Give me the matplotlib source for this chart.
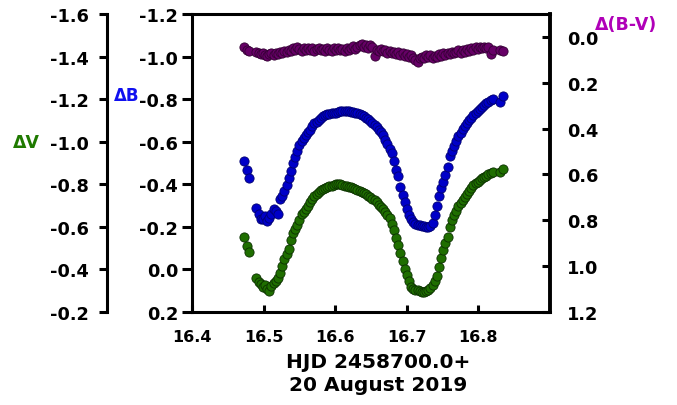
import matplotlib
matplotlib.use("Agg")
import matplotlib.pyplot as plt

plt.rcParams['font.family'] = ['DejaVu Sans']
plt.rcParams['font.weight'] = 'bold'

# HJD - 2458700.0 (shared by all three series)
hjd = [16.4730, 16.4775, 16.4795,
       16.490, 16.493, 16.496, 16.499, 16.502, 16.505, 16.508, 16.511, 16.514, 16.517,
       16.520, 16.523, 16.526, 16.529, 16.532, 16.535, 16.538, 16.541, 16.544, 16.547,
       16.550, 16.553, 16.556, 16.559, 16.562, 16.565, 16.568, 16.571, 16.574, 16.577,
       16.580, 16.583, 16.586, 16.589, 16.592, 16.595, 16.598, 16.601, 16.604, 16.607,
       16.610, 16.613, 16.616, 16.619, 16.622, 16.625, 16.628, 16.631, 16.634, 16.637,
       16.640, 16.643, 16.646, 16.649, 16.652, 16.655, 16.658, 16.661, 16.664, 16.667,
       16.670, 16.673, 16.676, 16.679, 16.682, 16.685, 16.688, 16.691, 16.694, 16.697,
       16.700, 16.703, 16.706, 16.709, 16.712, 16.715, 16.718, 16.721, 16.724, 16.727,
       16.730, 16.733, 16.736, 16.739, 16.742, 16.745, 16.748, 16.751, 16.754, 16.757,
       16.760, 16.763, 16.766, 16.769, 16.772, 16.775, 16.778, 16.781, 16.784, 16.787,
       16.790, 16.793, 16.796, 16.799, 16.802, 16.805, 16.808, 16.811, 16.814, 16.817,
       16.820, 16.830, 16.834]

dB = [-0.511, -0.469, -0.428,
      -0.290, -0.262, -0.238, -0.235, -0.252, -0.226, -0.240, -0.262, -0.285, -0.275,
      -0.262, -0.333, -0.345, -0.368, -0.395, -0.428, -0.462, -0.500, -0.530, -0.558,
      -0.586, -0.603, -0.617, -0.632, -0.645, -0.655, -0.673, -0.686, -0.694, -0.702,
      -0.713, -0.720, -0.727, -0.730, -0.732, -0.733, -0.735, -0.737, -0.740, -0.742,
      -0.744, -0.746, -0.745, -0.742, -0.740, -0.738, -0.736, -0.733, -0.730, -0.726,
      -0.720, -0.712, -0.705, -0.698, -0.687, -0.677, -0.667, -0.656, -0.646, -0.630,
      -0.610, -0.590, -0.568, -0.548, -0.508, -0.465, -0.438, -0.388, -0.350, -0.318,
      -0.282, -0.255, -0.237, -0.222, -0.212, -0.210, -0.207, -0.205, -0.202, -0.200,
      -0.198, -0.205, -0.218, -0.255, -0.300, -0.344, -0.383, -0.410, -0.445, -0.480,
      -0.532, -0.556, -0.580, -0.605, -0.625, -0.643, -0.662, -0.674, -0.686, -0.700,
      -0.713, -0.725, -0.736, -0.746, -0.756, -0.765, -0.772, -0.780, -0.787, -0.794,
      -0.801, -0.785, -0.816]

dV = [-0.551, -0.511, -0.483,
      -0.360, -0.342, -0.330, -0.318, -0.325, -0.308, -0.300, -0.322, -0.336, -0.344,
      -0.362, -0.382, -0.414, -0.450, -0.472, -0.495, -0.540, -0.570, -0.588, -0.608,
      -0.634, -0.660, -0.670, -0.684, -0.699, -0.715, -0.730, -0.745, -0.755, -0.765,
      -0.774, -0.779, -0.783, -0.787, -0.790, -0.793, -0.797, -0.800, -0.801, -0.799,
      -0.797, -0.794, -0.791, -0.788, -0.785, -0.781, -0.777, -0.774, -0.770, -0.765,
      -0.759, -0.753, -0.746, -0.739, -0.732, -0.725, -0.715, -0.704, -0.694, -0.685,
      -0.672, -0.656, -0.640, -0.615, -0.583, -0.548, -0.515, -0.478, -0.440, -0.402,
      -0.375, -0.345, -0.318, -0.310, -0.302, -0.305, -0.300, -0.296, -0.293, -0.298,
      -0.304, -0.312, -0.328, -0.345, -0.370, -0.410, -0.456, -0.490, -0.525, -0.553,
      -0.598, -0.634, -0.655, -0.675, -0.700, -0.712, -0.727, -0.741, -0.755, -0.768,
      -0.781, -0.795, -0.806, -0.813, -0.821, -0.828, -0.834, -0.841, -0.848, -0.855,
      -0.858, -0.856, -0.872]

dBV = [0.045, 0.058, 0.062,
       0.066, 0.070, 0.076, 0.072, 0.080, 0.083, 0.076, 0.070, 0.079, 0.068,
       0.074, 0.065, 0.071, 0.060, 0.066, 0.055, 0.062, 0.050, 0.056, 0.046,
       0.052, 0.060, 0.048, 0.057, 0.050, 0.058, 0.049, 0.062, 0.053, 0.047,
       0.058, 0.051, 0.060, 0.048, 0.055, 0.062, 0.050, 0.057, 0.049, 0.058,
       0.052, 0.061, 0.047, 0.055, 0.050, 0.040, 0.052, 0.044, 0.037, 0.030,
       0.042, 0.034, 0.048, 0.036, 0.044, 0.082, 0.056, 0.062, 0.052, 0.063,
       0.058, 0.068, 0.060, 0.070, 0.064, 0.074, 0.066, 0.078, 0.072, 0.084,
       0.076, 0.086, 0.078, 0.090, 0.100, 0.110, 0.094, 0.086, 0.092, 0.080,
       0.088, 0.078, 0.090, 0.082, 0.088, 0.076, 0.083, 0.072, 0.078, 0.068,
       0.075, 0.064, 0.071, 0.066, 0.058, 0.068, 0.056, 0.064, 0.054, 0.060,
       0.050, 0.058, 0.046, 0.052, 0.044, 0.050, 0.042, 0.048, 0.046, 0.074,
       0.058, 0.058, 0.060]

x_ticks = [16.4, 16.5, 16.6, 16.7, 16.8]
b_ticks = [-1.2, -1.0, -0.8, -0.6, -0.4, -0.2, 0.0, 0.2]
v_ticks = [-1.6, -1.4, -1.2, -1.0, -0.8, -0.6, -0.4, -0.2]
bv_ticks = [0.0, 0.2, 0.4, 0.6, 0.8, 1.0, 1.2]

W, H = 677, 406
fig = plt.figure(figsize=(W / 100, H / 100), dpi=100)
ax = fig.add_axes([192 / W, 1 - 313 / H, 358 / W, 298 / H])
axv = ax.twinx()
axbv = ax.twinx()

lw = 2.2
ms = 44

# delta B on main axes (inner left scale)
ax.scatter(hjd, dB, s=ms, color='#0000c8', edgecolors='#000070', linewidths=0.6, zorder=3)
ax.set_xlim(16.4, 16.9)
ax.set_ylim(0.2, -1.2)
ax.set_xticks(x_ticks)
ax.set_xticklabels(['%.1f' % t for t in x_ticks])
ax.set_yticks(b_ticks)
ax.set_yticklabels(['%.1f' % t for t in b_ticks])
ax.tick_params(axis='x', direction='in', length=5, width=lw, labelsize=11.5, pad=12)
ax.tick_params(axis='y', direction='out', length=7, width=lw, labelsize=12.8, pad=3)
for s in ['left', 'bottom', 'top']:
    ax.spines[s].set_linewidth(lw)
ax.spines['right'].set_visible(False)

# delta V on outer left scale
axv.scatter(hjd, dV, s=ms, color='#1f6e00', edgecolors='#0b3000', linewidths=0.6, zorder=3)
axv.set_ylim(-0.2, -1.6)
axv.set_yticks(v_ticks)
axv.set_yticklabels(['%.1f' % t for t in v_ticks])
axv.yaxis.set_ticks_position('left')
axv.yaxis.set_label_position('left')
axv.spines['left'].set_position(('axes', -85 / 358))
axv.spines['left'].set_linewidth(lw)
for s in ['right', 'top', 'bottom']:
    axv.spines[s].set_visible(False)
axv.tick_params(axis='y', direction='out', length=6, width=lw, labelsize=12.8, pad=7)

# delta (B-V) on the right scale
axbv.scatter(hjd, dBV, s=ms, color='#660066', edgecolors='#330033', linewidths=0.6, zorder=3)
axbv.set_ylim(1.2, -0.1)
axbv.set_yticks(bv_ticks)
axbv.set_yticklabels(['%.1f' % t for t in bv_ticks])
axbv.spines['right'].set_linewidth(lw + 0.6)
for s in ['left', 'top', 'bottom']:
    axbv.spines[s].set_visible(False)
axbv.tick_params(axis='y', direction='in', length=6, width=lw, labelsize=12.8, pad=12)

fig.text(139 / W, 1 - 96 / H, '\u0394B', color='#1010f0', fontsize=12,
         fontweight='bold', ha='right', va='center')
fig.text(26 / W, 1 - 143 / H, '\u0394V', color='#1f7a00', fontsize=12.5,
         fontweight='bold', ha='center', va='center')
fig.text(626 / W, 1 - 25 / H, '\u0394(B-V)', color='#b000b8', fontsize=12.5,
         fontweight='bold', ha='center', va='center')
fig.text(378 / W, 1 - 374 / H, 'HJD 2458700.0+\n20 August 2019', fontsize=14.5,
         fontweight='bold', ha='center', va='center', linespacing=1.25)

fig.savefig('out.png', dpi=100)
